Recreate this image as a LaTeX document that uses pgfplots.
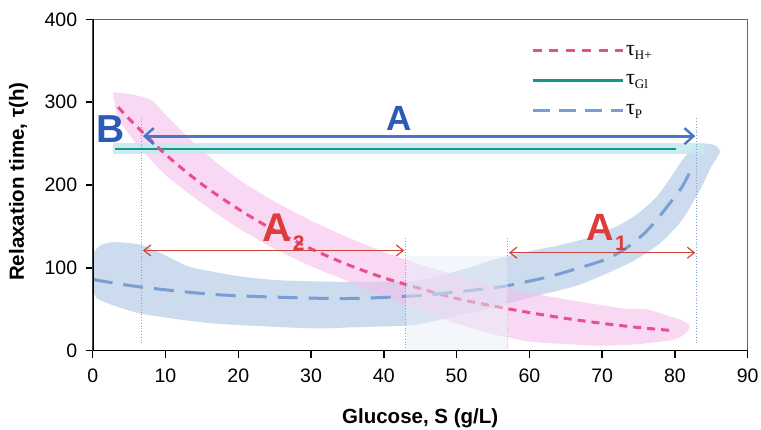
\documentclass[border=0pt]{standalone}
\usepackage{pgfplots}
\pgfplotsset{compat=1.18}
\usepackage{fontspec}
\setmainfont{Liberation Sans}
\newfontfamily\serif{Liberation Serif}
\usetikzlibrary{arrows.meta}
\definecolor{pinkline}{RGB}{232,79,140}
\definecolor{pinkband}{RGB}{244,190,234}
\definecolor{blueband}{RGB}{198,215,236}
\definecolor{tealline}{RGB}{20,150,140}
\definecolor{tealband}{RGB}{200,234,238}
\definecolor{bluedash}{RGB}{120,158,210}
\definecolor{bluearrow}{RGB}{70,120,195}
\definecolor{redarrow}{RGB}{200,70,60}
\definecolor{vline}{RGB}{130,165,215}
\definecolor{overlap}{RGB}{232,238,247}
\definecolor{letterblue}{RGB}{45,90,180}
\definecolor{letterred}{RGB}{222,60,60}
\begin{document}
\begin{tikzpicture}
\begin{axis}[
  scale only axis,
  width=655pt, height=331.4pt,
  xmin=0, xmax=90, ymin=0, ymax=400,
  xtick={0,10,...,90}, ytick={0,100,...,400},
  xtick pos=left, ytick pos=left,
  tick align=outside,
  major tick length=7pt,
  tick style={black, line width=1.5pt},
  axis line style={draw=gray!80!black, line width=0.8pt},
  /pgf/number format/assume math mode=true,
  ticklabel style={font=\fontsize{19.5}{20}\selectfont},
  xticklabel style={yshift=-8pt},
  yticklabel style={xshift=-5pt},
  xlabel={\bfseries Glucose, S (g/L)},
  ylabel={\bfseries Relaxation time, τ(h)},
  label style={font=\fontsize{20.5}{22}\selectfont},
  xlabel style={at={(axis description cs:0.5,0)}, anchor=base, yshift=-72.6pt},
  ylabel style={at={(axis description cs:-0.113,0.51)}, anchor=center},
  legend style={draw=none, fill=none, at={(axis cs:59.8,374)}, anchor=north west,
     font=\fontsize{22}{22}\selectfont\serif, row sep=14pt,
     nodes={inner sep=2pt}},
  legend cell align=left,
  legend image code/.code={\draw[#1] (0pt,0pt) -- (90pt,0pt);},
]
% blue band
\addplot[draw=none, fill=blueband, fill opacity=0.9, smooth, tension=0.4, forget plot] coordinates {
 (0.2,119) (1,127) (2.8,131) (6.5,128) (10,115) (13.4,101) (20,90) (25.7,85) (35,83) (44,84)
 (50,96) (56,112) (60,120) (64,127) (68,136) (72,150) (75,166) (77.5,186) (79.5,210) (81,230)
 (82.5,245) (84,250) (85.5,248) (86.2,240)
 (85,222) (83.5,195) (81,158) (78,130) (74,107) (67,80) (60,64) (55,52) (50,42) (44,31)
 (35,28) (30,27) (16.5,33) (6.5,45) (1,61) (0.2,70)} -- cycle;
% pink band
\addplot[draw=none, fill=pinkband, fill opacity=0.6, smooth, tension=0.4, forget plot] coordinates {
 (2.8,312) (5,310) (8,303) (10,285) (15,242) (20,207) (25,180) (30,157) (35,137) (40,119)
 (45,104) (50,91) (55,80) (60,70) (65,62) (70,55) (73,51) (76,50) (78,45) (80.5,38) (82,31)
 (81.5,21) (79.7,13)
 (75,8) (70,6) (65,8) (60,11) (55,20) (50,33) (45,48) (40,65) (35,84) (30,102) (25,123)
 (20,148) (15,178) (10,212) (6,250) (3.5,280) (3,300)} -- cycle;
% teal band
\addplot[draw=none, fill=tealband, fill opacity=0.9, forget plot] coordinates {
 (2.8,238) (84,238) (84,251) (2.8,251)} -- cycle;
% vertical dotted lines
\addplot[vline, dotted, line width=0.8pt, forget plot] coordinates {(6.7,9) (6.7,282)};
\addplot[vline, dotted, line width=0.8pt, forget plot] coordinates {(43,0) (43,137)};
\addplot[vline, dotted, line width=0.8pt, forget plot] coordinates {(57,0) (57,137)};
\addplot[vline, dotted, line width=0.8pt, forget plot] coordinates {(83,9) (83,282)};
% teal line
\addplot[tealline, line width=2pt, forget plot] coordinates {(3.1,244) (80.2,244)};
% pink dashed
\addplot[pinkline, line width=3pt, dash pattern=on 8pt off 6pt, smooth, forget plot] coordinates {
 (3.5,294) (5,280) (10,237) (15,201) (20,171) (25,145) (30,123) (35,104) (40,88) (45,75)
 (50,63) (55,54) (60,46) (65,39) (70,33) (75,28) (80,24)};
% blue dashed
\addplot[bluedash, line width=3pt, dash pattern=on 20pt off 11pt, smooth, forget plot] coordinates {
 (0,86) (6.5,77) (16.5,68) (25.7,64.5) (34.9,63) (44,66) (50,71) (56,77) (60,84) (63,90)
 (66.5,99) (70.1,109) (73,122) (75.6,140) (77.5,158) (79.3,178) (81,198) (82.3,220)};
% overlap region
\addplot[draw=none, fill=overlap, fill opacity=0.5, forget plot] coordinates {
 (43,0) (57,0) (57,114) (43,114)} -- cycle;
% arrows
\addplot[bluearrow, line width=2.8pt, {Straight Barb[length=9pt,width=16pt,line width=2.4pt]}-{Straight Barb[length=9pt,width=16pt,line width=2.4pt]}, forget plot] coordinates {(6.9,259) (82.8,259)};
\addplot[redarrow, line width=1.2pt, {Straight Barb[length=7pt,width=11pt]}-{Straight Barb[length=7pt,width=11pt]}, forget plot] coordinates {(6.9,121) (42.8,121)};
\addplot[redarrow, line width=1.2pt, {Straight Barb[length=7pt,width=11pt]}-{Straight Barb[length=7pt,width=11pt]}, forget plot] coordinates {(57.2,118.3) (82.8,118.3)};
% letters
\node[font=\fontsize{35}{35}\selectfont\bfseries, text=letterblue, inner sep=0pt] at (axis cs:42.1,280) {A};
\node[font=\fontsize{39}{39}\selectfont\bfseries, text=letterblue, inner sep=0pt] at (axis cs:2.5,267.6) {B};
\node[font=\fontsize{40}{40}\selectfont\bfseries, text=letterred, inner sep=0pt] at (axis cs:25.3,149) {A};
\node[font=\fontsize{21}{21}\selectfont\bfseries, text=letterred, inner sep=0pt] at (axis cs:28.3,130) {2};
\node[font=\fontsize{38}{38}\selectfont\bfseries, text=letterred, inner sep=0pt] at (axis cs:69.7,149) {A};
\node[font=\fontsize{21}{21}\selectfont\bfseries, text=letterred, inner sep=0pt] at (axis cs:72.6,130) {1};
% legend
\addlegendimage{pinkline, line width=3pt, dash pattern=on 9pt off 7.5pt}
\addlegendentry{τ\raisebox{-0.4ex}{\fontsize{13}{13}\selectfont H+}}
\addlegendimage{tealline, line width=3pt}
\addlegendentry{τ\raisebox{-0.4ex}{\fontsize{13}{13}\selectfont Gl}}
\addlegendimage{bluedash, line width=3pt, dash pattern=on 17pt off 9pt}
\addlegendentry{τ\raisebox{-0.4ex}{\fontsize{13}{13}\selectfont P}}
% thick left and bottom axis lines
\draw[black, line width=2pt] (rel axis cs:0,1) -- (rel axis cs:0,0) -- (rel axis cs:1,0);
\end{axis}
\pgfresetboundingbox
\path (-92.7pt,-78.3pt) rectangle (668.3pt,350.7pt);
\end{tikzpicture}
\end{document}
